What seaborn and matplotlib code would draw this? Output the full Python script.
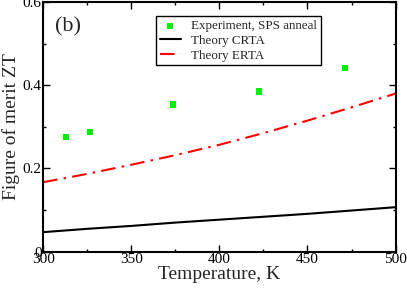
import numpy as np
import pandas as pd
import seaborn as sns
import matplotlib
matplotlib.use("Agg")
import matplotlib.pyplot as plt
from matplotlib.ticker import MultipleLocator

exp_T = [313, 326.5, 373.5, 422.5, 471.5]
exp_ZT = [0.275, 0.288, 0.354, 0.385, 0.441]

theory_T = [300, 325, 350, 375, 400, 425, 450, 475, 500]
crta_ZT = [0.047, 0.055, 0.062, 0.070, 0.077, 0.084, 0.091, 0.099, 0.107]
erta_ZT = [0.167, 0.187, 0.209, 0.232, 0.257, 0.285, 0.315, 0.347, 0.380]

x_ticks = [300, 350, 400, 450, 500]
y_ticks = [0, 0.2, 0.4, 0.6]
y_ticklabels = ["0", "0.2", "0.4", "0.6"]

sns.set_theme(style="ticks")
plt.rcParams['font.family'] = ['Liberation Serif', 'DejaVu Serif']

fig, ax = plt.subplots(figsize=(4.07, 2.91), dpi=100)
fig.subplots_adjust(left=0.106, right=0.972, top=0.993, bottom=0.135)

df_exp = pd.DataFrame({"T": exp_T, "ZT": exp_ZT})
df_th = pd.DataFrame({"T": theory_T, "CRTA": crta_ZT, "ERTA": erta_ZT})

sns.scatterplot(data=df_exp, x="T", y="ZT", ax=ax, marker="s", s=20, color="#00ee00",
                edgecolor="none", label="Experiment, SPS anneal", zorder=3)
sns.lineplot(data=df_th, x="T", y="CRTA", ax=ax, color="black", lw=1.5, label="Theory CRTA")
sns.lineplot(data=df_th, x="T", y="ERTA", ax=ax, color="red", lw=1.5, label="Theory ERTA",
             dashes=False)
ax.lines[-1].set_linestyle((0, (7, 3, 1.2, 3)))

ax.set_xlim(300, 500)
ax.set_ylim(0, 0.6)
ax.set_xticks(x_ticks)
ax.set_xticklabels([str(t) for t in x_ticks])
ax.set_yticks(y_ticks)
ax.set_yticklabels(y_ticklabels)
ax.xaxis.set_minor_locator(MultipleLocator(25))
ax.yaxis.set_minor_locator(MultipleLocator(0.1))
ax.tick_params(which="both", direction="in", top=True, right=True, labelsize=11,
               colors="black", pad=1)
ax.tick_params(which="major", length=5, width=1)
ax.tick_params(which="minor", length=2.5, width=1)
for sp in ax.spines.values():
    sp.set_linewidth(1.5)
    sp.set_color("black")

ax.set_xlabel("Temperature, K", fontsize=14, labelpad=0)
ax.set_ylabel("Figure of merit ZT", fontsize=14, labelpad=2)

ax.text(0.034, 0.94, "(b)", transform=ax.transAxes, fontsize=16, va="top", ha="left")

leg = ax.legend(loc="upper left", bbox_to_anchor=(0.32, 0.944), fontsize=9.4, frameon=True,
                fancybox=False, edgecolor="black", framealpha=1, borderpad=0.3,
                labelspacing=0.2, handlelength=1.6, handletextpad=0.8, borderaxespad=0)
leg.get_frame().set_linewidth(1.0)

fig.savefig("out.png", dpi=100)
